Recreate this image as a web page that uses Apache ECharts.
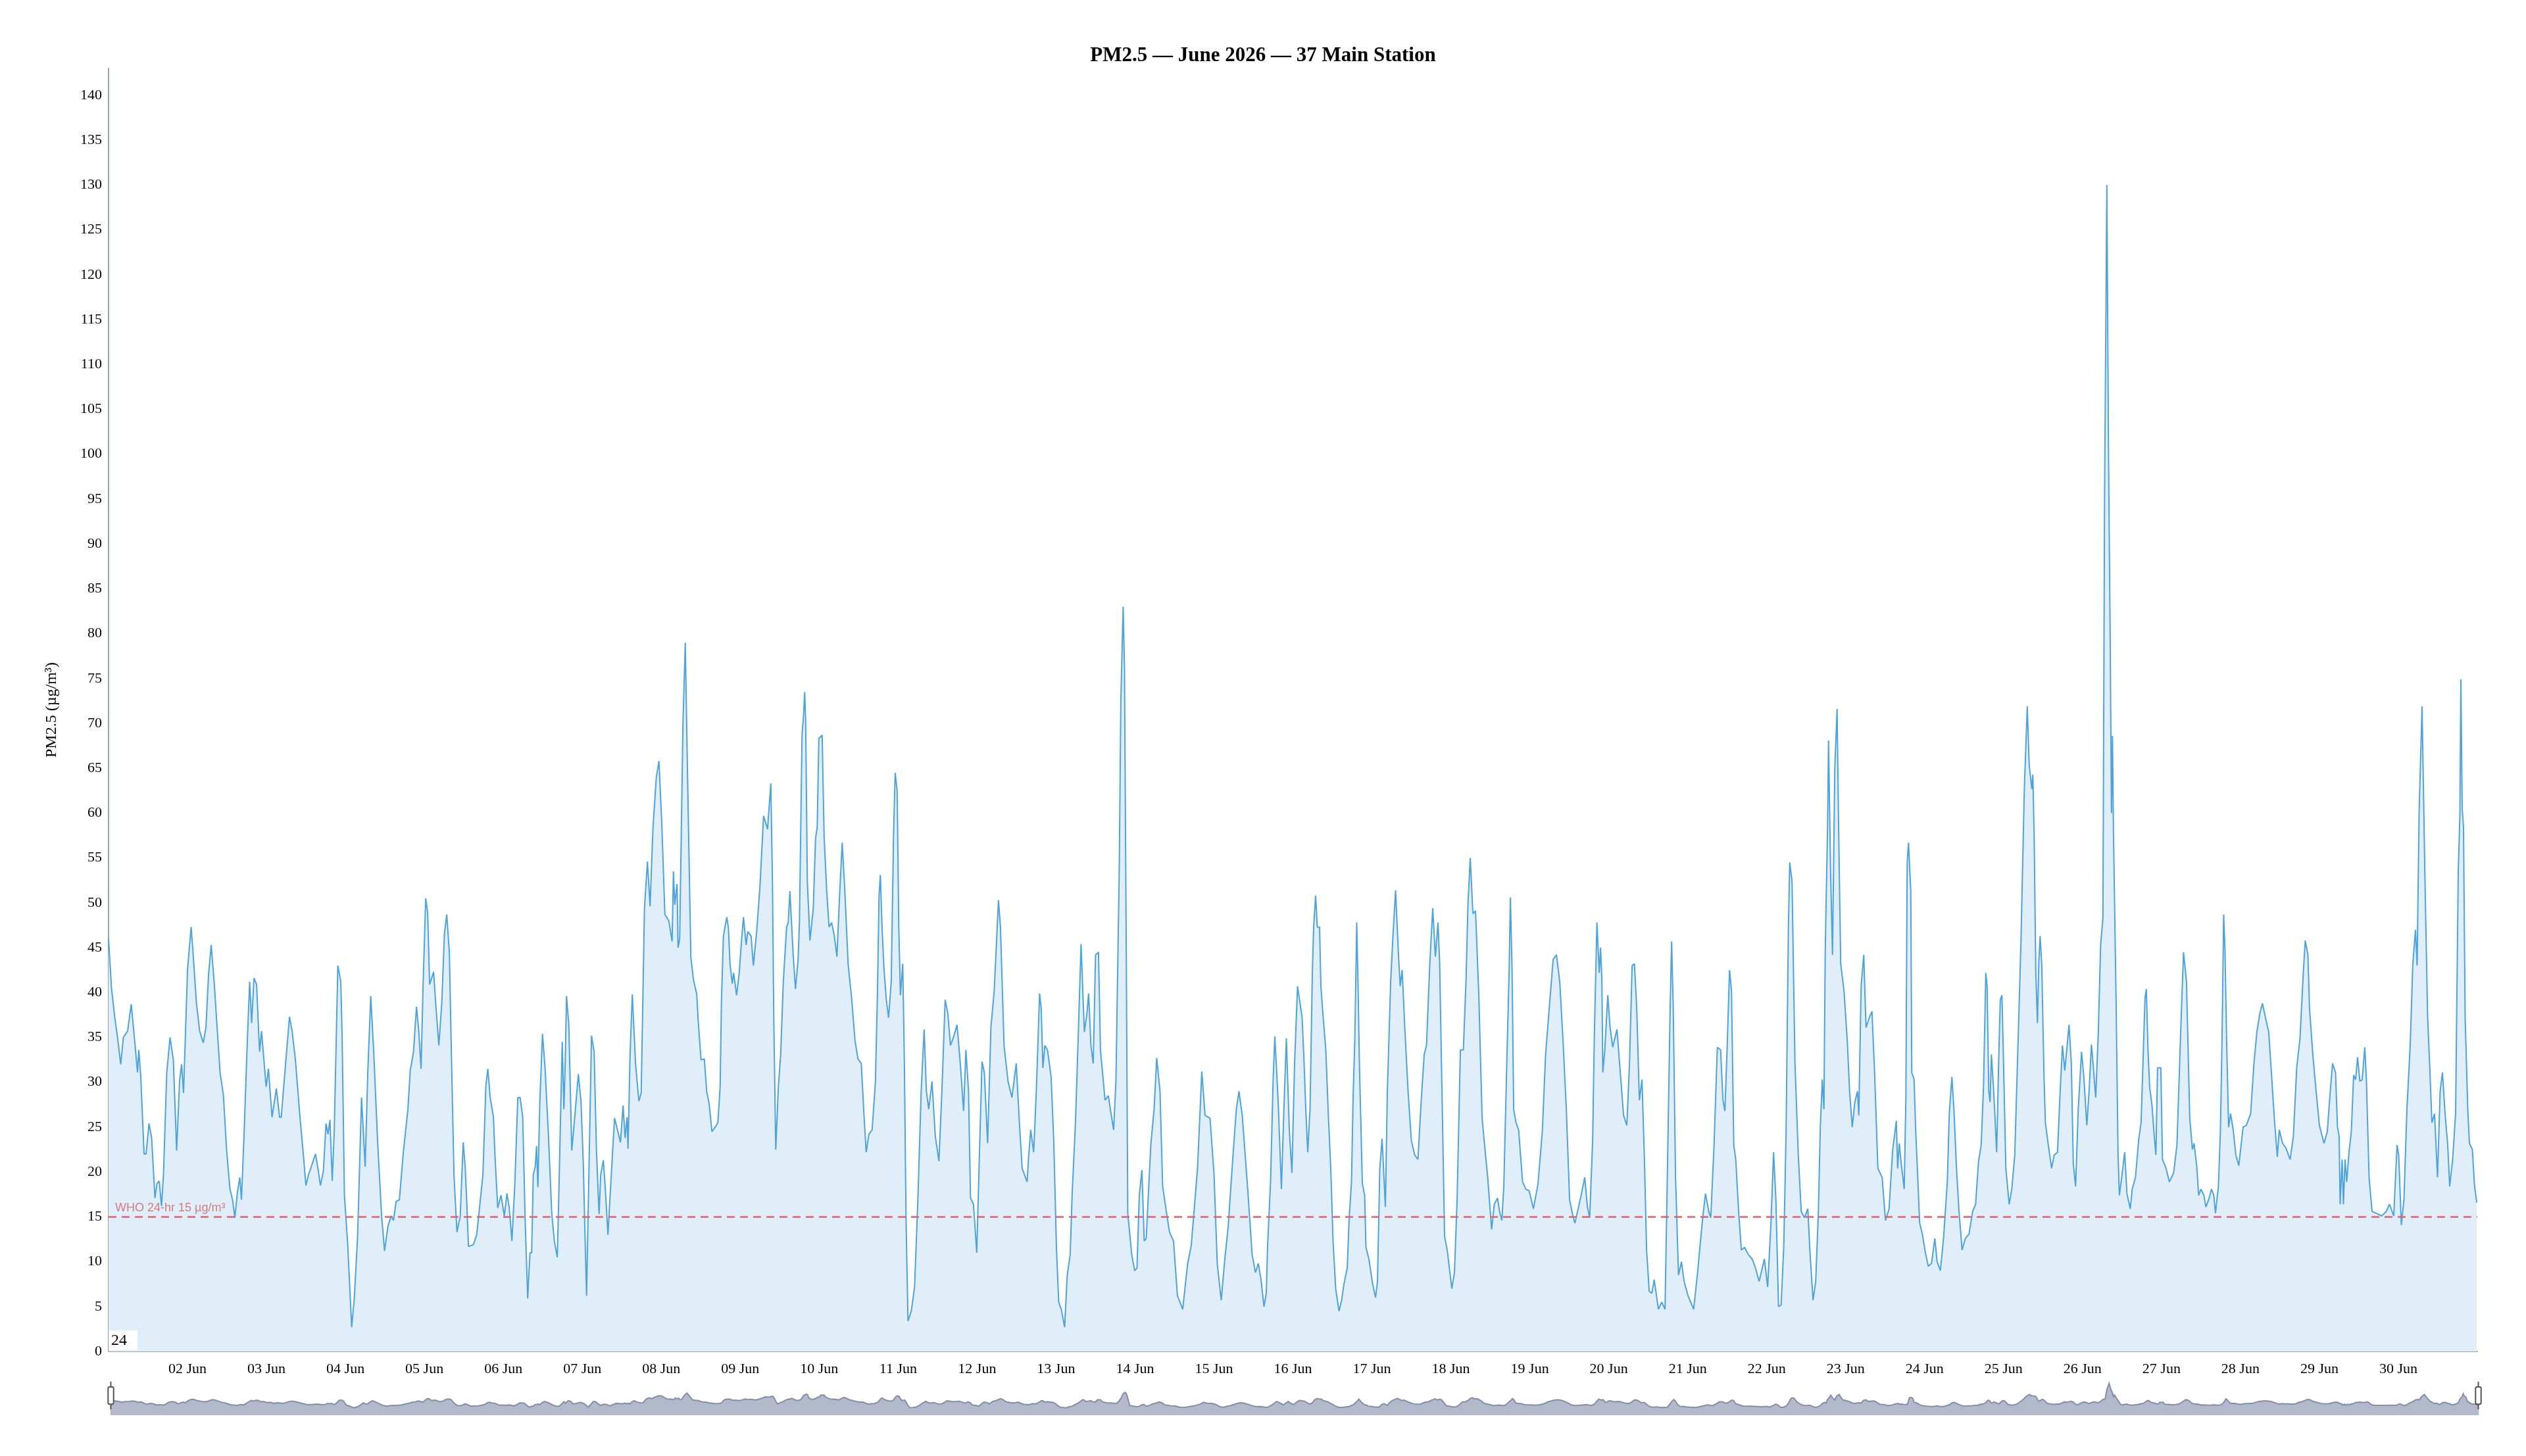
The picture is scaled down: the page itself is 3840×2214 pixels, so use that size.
<!DOCTYPE html>
<html>
<head>
<meta charset="utf-8">
<title>PM2.5 — June 2026 — 37 Main Station</title>
<script src="https://cdn.jsdelivr.net/npm/echarts@6/dist/echarts.min.js"></script>
<style>
  html, body { margin: 0; padding: 0; background: #fff; }
  #chart { width: 3840px; height: 2214px; }
</style>
</head>
<body>
<div id="chart"></div>
<script>
// readings: [hours since 01 Jun 00:00, PM2.5 in µg/m³]
var week1 = [
  [0,46],[0.9,40.5],[1.8,37.5],[2.8,34.8],[3.7,32],[4.5,35],[5.8,35.7],[6.9,38.7],[7.8,35.2],[8.8,31.1],[9.2,33.6],[9.8,30.6],
  [10.8,22],[11.4,22],[12.3,25.4],[13.1,23.8],[14.1,17.1],[14.7,18.7],[15.4,19],[16.1,16.2],[16.7,19.7],[17.7,31.1],[18.7,35],
  [19.7,32.5],[20.7,22.4],[21.6,30.2],[22.2,32],[22.8,28.8],[24,42.5],[25.1,47.3],[25.7,44.4],[26.7,38.9],[27.7,35.7],[28.8,34.4],
  [29.6,36.1],[30.4,42],[31.2,45.3],[32.2,40.7],[33,36.1],[33.9,31.1],[34.9,28.6],[35.9,22.4],[36.9,18.1],[37.7,16.9],[38.4,14.9],
  [39.2,17.8],[39.9,19.4],[40.4,16.9],[41.2,24.2],[42.2,34.8],[42.9,41.2],[43.5,36.6],[44.2,41.6],[45,40.9],[45.9,33.4],[46.5,35.7],
  [47.9,29.5],[48.6,31.5],[49.7,26.1],[51,29.3],[52,26.1],[52.5,26.1],[53.8,32],[55,37.3],[55.8,35.7],[56.8,32.5],[58.1,26.5],
  [59.1,22.4],[60,18.5],[60.8,19.7],[61.8,20.8],[62.9,22],[63.7,20.3],[64.4,18.5],[65.3,20.1],[66.1,25.4],[66.7,24.2],[67.3,25.8],
  [68,19],[68.6,24.5],[69.7,43],[70.6,41.2],[71,35.2],[71.7,17.4],[72.7,11.9],[73.9,2.7],[74.7,5.9],[75.7,12.8],[76.9,28.3],
  [78,20.6],[78.8,31.1],[79.7,39.6],[80.6,33.4],[81.8,23.3],[83,15.1],[83.9,11.2],[84.9,13.9],[85.9,15.1],[86.6,14.6],[87.4,16.7],
  [88.4,16.9],[89.6,22.2],[91,27],[91.7,31.3],[92.7,33.4],[93.6,38.4],[94.3,35.7],[95,31.5],[95.6,40.7],[96.4,50.5],[97,48.9],
  [97.6,40.9],[98.8,42.3],[99.6,38],[100.4,34.1],[101.3,38.9],[102.1,46.6],[102.8,48.7],[103.6,44.4],[104.2,33.4],[105,19.7],
  [105.9,13.3],[106.9,15.1],[107.8,23.3],[108.4,20.6],[108.9,16.5],[109.4,11.7],[110.9,11.9],[111.9,13],[112.9,16.5],[113.8,19.7],
  [114.7,29.7],[115.3,31.5],[116,28.3],[117,26.1],[117.5,21.5],[118.3,16],[119.3,17.4],[120.3,15.1],[121.1,17.6],[121.8,16],
  [122.6,12.3],[123.5,18.7],[124.4,28.3],[125.1,28.3],[125.9,26.1],[126.6,15.1],[127.4,5.9],[128.1,11],[128.6,11],[129.1,19.7],
  [129.7,20.6],[130.1,22.9],[130.5,18.3],[131.1,27.9],[131.9,35.4],[132.7,31.5],[133.7,24.2],[134.7,15.5],[135.5,12.3],[136.4,10.5],
  [137,19.7],[137.9,34.5],[138.4,27],[138.8,32],[139.2,39.6],[139.9,36.4],[140.3,30.2],[140.8,22.4],[141.7,26.1],[142.8,30.9],
  [143.6,27.9],[144.3,21],[144.8,13.3],[145.3,6.2],[146,19.7],[146.8,35.2],[147.6,33.4],[148.3,22.4],[149.1,15.3],[149.6,19.7],
  [150.4,21.3],[150.9,18.7],[151.8,13],[152.6,18.3],[153.8,26],[154.7,24.7],[155.6,23.3],[156.4,27.4],[157,23.8],[157.6,26.1],
  [157.9,22.6],[158.5,32.9],[159.2,39.8],[160.2,32],[161.2,27.9],[161.9,28.8],[162.9,49.4],[163.8,54.6],[164.6,49.6],[165.5,58.5],
  [166.5,64],[167.3,65.8]
];
var week2 = [
  [168.2,58.5],[169.1,48.7],[170.3,48],[171.3,45.7],[171.7,53.5],[172.1,49.8],[172.8,52.1],[173.1,45],[173.6,46],[174.6,70],
  [175.3,79],[175.9,66],[176.4,56],[177,43.9],[177.8,41.4],[178.8,39.8],[179.2,37],[180.1,32.5],[181.1,32.6],[181.8,29],
  [182.6,27.5],[183.4,24.5],[184.4,25],[185.2,25.5],[185.9,29.5],[186.3,39.2],[186.9,46.3],[187.9,48.4],[188.4,47.3],[188.9,43.2],
  [189.6,41],[190,42.2],[190.9,39.7],[191.7,42.2],[192.4,45.8],[193,48.4],[193.8,45.3],[194.3,46.8],[195.3,46.3],[196,43],
  [197,46.8],[198,51.8],[199.1,59.7],[200.3,58.2],[201.3,63.3],[201.8,52.4],[202.2,37.2],[202.8,22.5],[203.6,29.5],[204.3,33.1],
  [205.1,41.2],[206.1,47.3],[206.6,47.8],[207.1,51.3],[208.1,44.2],[208.8,40.4],[209.6,43.7],[210,47.8],[210.8,68.8],[211.2,70.6],
  [211.6,73.5],[211.9,70.1],[212.4,52.4],[213.2,45.8],[214.2,49.3],[214.9,57.2],[215.4,58.4],[215.9,68.3],[216.9,68.7],[217.5,57.4],
  [218.3,51.3],[219,47.3],[219.8,47.8],[220.6,46.3],[221.4,44],[222.2,50.8],[223,56.7],[223.8,51.3],[224.8,43.2],[225.9,39.2],
  [226.9,34.6],[227.8,32.6],[228.8,32.1],[229.6,26.5],[230.3,22.2],[231.1,24.2],[232.1,24.7],[233.1,30.1],[233.7,39.7],[234.2,50.8],
  [234.6,53.1],[235.1,47.3],[235.7,42.7],[236.4,39.2],[237.1,37.2],[237.9,41.2],[238.6,57.4],[239.1,64.5],[239.7,62.5],[240.2,47.3],
  [240.7,39.7],[241.4,43.2],[241.9,32.1],[242.4,14.9],[243,3.4],[244,4.5],[245,7.2],[246,16.9],[247,29],[247.9,35.9],
  [248.6,29],[249.3,27],[250.3,30.1],[251.3,24],[252.4,21.2],[253.3,29],[254.3,39.2],[255.1,37.7],[255.9,34.1],[256.9,35.1],
  [257.9,36.4],[258.9,32.1],[259.9,26.8],[260.6,33.6],[261.4,29],[262,17.1],[262.9,16.4],[263.9,11],[264.7,21.9],[265.5,32.3],
  [266.2,31.1],[267.2,23.2],[268.2,36.1],[269.2,40.2],[270.5,50.3],[271.1,47.3],[272.2,34.1],[273.4,30.1],[274.6,28.3],[275.9,32.1],
  [276.7,26.5],[277.7,20.4],[279.2,18.9],[279.7,21.9],[280.3,24.7],[281.2,22.2],[282,29],[283,39.9],[283.5,38.2],[284,31.6],
  [284.6,34.1],[285.4,33.6],[286.5,30.6],[287.3,23.5],[288.1,11.8],[288.8,5.5],[289.6,4.7],[290.6,2.7],[291.4,8.5],[292.3,10.8],
  [292.9,17.6],[293.9,25.5],[294.7,34.6],[295.6,45.4],[296.6,35.6],[297.4,37.7],[297.9,39.9],[298.6,34.1],[299.3,32.1],[300,44.2],
  [300.9,44.5],[301.5,33.6],[302.9,28],[303.9,28.5],[304.8,26.3],[305.5,24.7],[306.2,30.1],[307.2,53.4],[307.7,72.6],[308.4,83],
  [308.8,76],[309.3,47.3],[309.8,15.4],[311,10.8],[311.9,9],[312.6,9.3],[313.3,17.4],[314.1,20.2],[314.8,12.3],[315.4,12.6],
  [316.8,23],[317.8,27],[318.6,32.7],[319.6,29],[320.4,18.4],[321.6,15.4],[322.5,13.3],[323.7,12.3],[324.9,6.2],[326.5,4.7],
  [328,9.8],[329.1,11.8],[330,15.9],[331,20.4],[332.3,31.2],[333.3,26.3],[334.8,26],[336,19.9]
];
var week3 = [
  [337,9.8],[338.2,5.7],[339.3,10.3],[340.3,13.8],[341.7,21.4],[342.8,27],[343.6,29],[344.6,26.3],[346.2,18.4],[347.6,10.8],
  [348.6,8.8],[349.5,9.8],[350.3,8],[351.2,5],[351.9,6.5],[352.3,11.8],[353.2,18.9],[354,30.6],[354.5,35.1],[355.5,28],
  [356.5,18.1],[357.3,27.5],[358,34.9],[358.9,24.7],[359.7,19.9],[360.5,32.1],[361.4,40.7],[362.8,37.2],[363.4,32.1],[363.9,27],
  [364.5,22.2],[365.2,27],[365.9,42.2],[366.3,47.3],[366.9,50.8],[367.4,47.3],[368.1,47.3],[368.5,40.7],[369.2,37.2],[370,33.6],
  [370.8,26],[371.5,20.4],[372.2,12.3],[373,7],[374,4.5],[374.8,5.7],[375.5,7.5],[376.5,9.3],[377.1,14.9],[377.8,18.9],
  [378.3,28.5],[378.8,34.6],[379.4,47.8],[379.8,40.7],[380.2,32.1],[381.1,18.7],[381.8,17.4],[382.2,11.6],[383.1,10.3],[384.1,7.8],
  [385.1,6],[385.7,7.8],[386.4,20.4],[387.1,23.7],[388.1,16.1],[388.7,29],[389.7,41.2],[390.4,46.3],[391.2,51.4],[392,44.8],
  [392.6,40.7],[393.2,42.5],[394,36.1],[395,29],[396,23.5],[397,21.9],[398,21.4],[399,28],[399.9,33.1],[400.6,34.1],
  [401.6,43.2],[402.5,49.4],[403.3,44],[404.1,47.8],[404.6,43.2],[405.4,27],[406.1,12.8],[406.9,11.3],[408.3,7],[409.1,8.8],
  [409.9,16.9],[410.9,33.6],[411.8,33.6],[412.6,41.2],[413.2,49.8],[413.9,55],[414.7,48.8],[415.5,49.1],[416.5,39.7],[417.5,26],
  [418,24],[419.2,19.4],[420.4,13.6],[421.2,16.4],[422.2,17.1],[422.8,15.6],[423.5,14.6],[424.1,18.4],[425,32.1],[425.7,42.2],
  [426.1,50.6],[426.6,42.7],[427.1,27],[427.8,25.5],[428.6,24.7],[429.8,18.9],[430.8,18.1],[431.8,17.9],[433.1,15.9],[434.5,18.7],
  [435.8,24.5],[436.8,33.1],[437.9,38.2],[439.1,43.7],[440.1,44.2],[441.1,41.2],[442.1,34.6],[443.1,27],[444.1,16.9],[445.1,15.1],
  [445.7,14.3],[446.7,15.9],[447.7,17.6],[448.7,19.4],[449.5,16.1],[450.2,14.9],[451.1,23.5],[451.6,35],[452.4,47.8],[453.1,42.2],
  [453.5,45],[453.9,41.5],[454.2,31.1],[454.8,33.6],[455.7,39.7],[456.4,36.1],[457.2,33.9],[458.5,35.9],[459.5,31.1],[460.5,26.3],
  [461.5,25.2],[462.3,32.1],[463.1,43],[463.8,43.2],[464.5,38.2],[465.3,28],[466.1,30.3],[466.8,21.9],[467.5,11.3],[468.3,6.7],
  [469.1,6.5],[469.8,8],[470.4,6.5],[471.1,4.7],[472.1,5.5],[473.1,4.7],[473.8,19.4],[474.6,37.2],[475.1,45.7],[475.6,38.2],
  [476.3,19.4],[477.2,8.5],[478.1,10],[478.9,7.8],[480.1,6.2],[480.9,5.5],[481.8,4.7],[483,8.8],[484,12.8],[484.7,15.4],
  [485.4,17.6],[486.4,15.6],[487,14.9],[488,23],[489,33.9],[490,33.6],[490.7,28],[491.3,26.8],[492,34.1],[492.7,42.5],
  [493.3,40.2],[494,23],[494.6,21.4],[495.5,15.4],[496.3,11.3],[497.3,11.6],[498.4,10.8],[499.6,10.3],[500.6,9.3],[501.7,7.8],
  [503.3,10.3]
];
var week4 = [
  [504.3,7.2],[505.3,14.3],[506.1,22.2],[506.8,16.9],[507.6,5],[508.4,5.2],[509.2,11.8],[509.9,24.5],[510.6,47.3],[511,54.5],
  [511.7,52.4],[512.6,32.1],[513.6,21.9],[514.5,15.6],[515.5,14.9],[516.5,15.9],[517.2,10.8],[518.1,5.7],[518.9,7.8],[519.7,15.4],
  [520.3,25],[520.9,30.3],[521.4,27],[521.8,44.8],[522.5,58.4],[522.8,68.1],[523.4,53.9],[524,44.2],[524.7,65],[525.4,71.6],
  [525.8,60],[526.5,43.2],[527.5,40.2],[528.5,34.6],[529.2,29],[530,25],[530.8,27.8],[531.6,29],[532,26.3],[532.7,40.7],
  [533.5,44.2],[534.2,36.1],[535.2,37.2],[536,37.9],[536.8,31.1],[537.8,20.4],[539.1,19.4],[540.1,14.6],[541.2,15.9],[542.3,22.5],
  [543.4,25.7],[543.8,20.4],[544.3,23.2],[544.9,20.9],[545.8,18.1],[546.3,28],[546.7,54.4],[547.1,56.7],[547.8,51.3],[548.1,31.1],
  [548.8,30.3],[549.3,24.5],[549.8,20.4],[550.5,14.3],[551.3,13.1],[552.1,11.3],[553.1,9.5],[554.1,9.8],[555.1,12.6],[555.8,10],
  [556.8,9],[557.8,12.8],[558.9,18.9],[559.5,26.5],[560.3,30.6],[560.9,27],[561.7,20.4],[562.4,15.9],[563.4,11.3],[564.4,12.6],
  [565.5,13.1],[566.6,15.6],[567.5,16.4],[568.4,21.2],[569.2,23],[569.9,29.5],[570.6,42.2],[571,40.7],[571.5,29],[571.9,27.8],
  [572.3,33.1],[573,29],[573.9,22.2],[574.5,32.1],[575,39.2],[575.5,39.7],[576,32.1],[576.7,20.4],[577.7,16.4],[578.5,18.1],
  [579.4,21.9],[580.3,33.1],[581.3,45.8],[582.3,62.5],[583.2,71.9],[583.8,65.3],[584.6,62.7],[584.9,64.3],[585.3,57.4],[585.8,42.2],
  [586.3,36.6],[586.7,43.2],[587.1,46.3],[587.6,43.2],[588.3,30.6],[588.7,25.5],[589.6,23],[590.6,20.4],[591.4,21.9],[592.4,22.2],
  [593.2,29],[593.9,34.1],[594.6,31.3],[595.2,33.6],[595.9,36.4],[596.6,32.1],[597.2,20.9],[597.9,18.4],[598.7,27],[599.7,33.4],
  [600.4,30.6],[601.3,25.2],[602,29],[602.7,34.2],[603.2,32.1],[604,28.3],[604.8,35.6],[605.5,45.3],[606.2,48.3],[606.7,95],
  [607.4,130],[607.9,100],[608.4,80],[608.8,60],[609.1,68.6],[609.4,58],[610.2,39.2],[610.8,21.9],[611.2,17.4],[611.9,19.4],
  [612.8,22.2],[613.5,17.6],[614.5,15.9],[615.1,18.1],[616.1,19.4],[617.1,23.7],[617.8,25.5],[618.5,33.6],[619,39.4],[619.4,40.4],
  [619.9,33.6],[620.4,29.5],[621.1,27.5],[621.8,24],[622.3,21.9],[622.8,31.6],[623.8,31.6],[624.3,21.4],[625.4,20.4],[626.4,18.9],
  [627.7,19.9],[628.7,23],[629.7,34.1],[630.7,44.5],[631.6,41.2],[632.6,26],[633.4,22.5],[633.9,23.2],[634.7,20.7],[635.3,17.4],
  [636,18.1],[636.9,17.4],[637.5,16.1],[638.5,17.1],[639.2,18.1],[639.9,17.4],[640.4,15.4],[641.3,18.4],[641.9,24.5],[642.4,34.6],
  [642.9,48.7],[643.3,44.8],[643.8,34.6],[644.4,25],[645,26.5],[645.8,24.7],[646.6,21.9],[647.5,20.7],[648.8,25],[649.8,25.2],
  [651.1,26.5],[652.1,32.1],[653,35.6],[653.9,37.7],[654.7,38.8],[655.6,37.2],[656.6,35.6],[657.4,31.1],[658.3,26],[659.2,21.7],
  [659.8,24.7],[660.8,23.2],[661.8,22.7],[663.1,21.4],[664.1,24],[665.1,31.6],[666.1,34.9],[667.1,42.2],[667.7,45.8],[668.5,44.2],
  [669,38.2],[670,33.1],[671,29],[672,25.2],[673.4,23.2],[674.4,24.5],[675.3,29],[676,32.1],[676.9,31.1],[677.5,25],
  [678,24],[678.3,16.4],[678.9,21.4],[679.3,16.4],[679.8,21.4],[680.3,18.9],[681,22.2],[681.7,24.5],[682.4,30.8],[683,30.3],
  [683.6,32.8],[684.3,30.1],[685,30.3],[685.8,33.9],[686.3,30.1],[687.1,19.4],[688,15.6],[689.3,15.4],[690.9,15.1],[692.3,15.6],
  [693.3,16.4],[694.6,15.1],[695.6,23],[696.1,21.9],[696.9,14.1],[697.7,16.9],[698.6,27],[699.6,34.1],[700.4,43.2],[701.2,47],
  [701.7,43],[702.3,60],[703.2,71.9],[704.1,52.4],[704.9,37.2],[705.5,32.1],[706.2,25.5],[707,26.5],[707.9,19.4],[708.7,29],
  [709.4,31.1],[710.2,26.5],[711,23],[711.6,18.4],[712.5,21.4],[713.4,26.5],[714.2,53.4],[714.7,59.7],[715,74.9],[715.4,60.5],
  [715.8,58.4],[716.3,37.2],[717.1,27],[717.6,23.2],[718.5,22.5],[719.1,18.7],[719.8,16.6]
];

var chartTitle = 'PM2.5 — June 2026 — 37 Main Station';
var yAxisName = 'PM2.5 (µg/m³)';
var whoLimit = 15;
var whoLabel = 'WHO 24-hr 15 µg/m³';
var cornerNote = '24';
var yMax = 143;
var yStep = 5;

var HOUR = 3600 * 1000;
var DAY = 24 * HOUR;
var monthStart = new Date(2026, 5, 1).getTime();
var monthEnd = new Date(2026, 6, 1).getTime();

var seriesData = week1.concat(week2, week3, week4).map(function (p) {
  return [monthStart + p[0] * HOUR, p[1]];
});

var serif = '"Liberation Serif", "Times New Roman", serif';
var chart = echarts.init(document.getElementById('chart'));

var option = {
  animation: false,
  backgroundColor: '#fff',
  title: {
    text: chartTitle,
    left: 'center',
    top: 64,
    textStyle: { fontFamily: serif, fontSize: 31, fontWeight: 'bold', color: '#000' }
  },
  grid: { left: 165, right: 74, top: 104, bottom: 159 },
  xAxis: {
    type: 'time',
    min: monthStart,
    max: monthEnd,
    minInterval: DAY,
    maxInterval: DAY,
    axisLine: { lineStyle: { color: '#9aa3ab', width: 2 } },
    axisTick: { show: false },
    splitLine: { show: false },
    axisLabel: {
      // the first and last day boundaries carry no label
      formatter: function (value) {
        if (value <= monthStart || value >= monthEnd) return '';
        return echarts.time.format(value, '{dd} {MMM}', false);
      },
      fontFamily: serif,
      fontSize: 22,
      fontWeight: 'normal',
      color: '#000',
      margin: 16
    }
  },
  yAxis: {
    type: 'value',
    min: 0,
    max: yMax,
    interval: yStep,
    name: yAxisName,
    nameLocation: 'middle',
    nameGap: 74,
    nameTextStyle: { fontFamily: serif, fontSize: 24, color: '#000' },
    axisLine: { show: true, lineStyle: { color: '#9aa3ab', width: 2 } },
    axisTick: { show: false },
    splitLine: { show: false },
    axisLabel: { fontFamily: serif, fontSize: 22, color: '#000', margin: 10, showMaxLabel: false }
  },
  dataZoom: [{
    type: 'slider',
    xAxisIndex: 0,
    start: 0,
    end: 100,
    left: 165,
    right: 74,
    bottom: 62,
    height: 60,
    showDetail: false,
    moveHandleSize: 0,
    brushSelect: false,
    borderColor: 'transparent',
    backgroundColor: 'transparent',
    fillerColor: 'rgba(0,0,0,0)',
    dataBackground: {
      lineStyle: { color: '#858ea4', width: 2 },
      areaStyle: { color: '#adb5c8', opacity: 0.95 }
    },
    selectedDataBackground: {
      lineStyle: { color: '#858ea4', width: 2 },
      areaStyle: { color: '#adb5c8', opacity: 0.95 }
    },
    handleSize: '70%',
    handleStyle: { color: '#fff', borderColor: '#555', borderWidth: 2 }
  }],
  graphic: [{
    type: 'text',
    left: 166,
    bottom: 161,
    z: 100,
    style: {
      text: cornerNote,
      font: '24px "Liberation Serif", serif',
      fill: '#000',
      backgroundColor: '#fff',
      padding: [4, 16, 2, 3]
    }
  }],
  series: [{
    type: 'line',
    name: 'PM2.5',
    data: seriesData,
    showSymbol: false,
    symbol: 'none',
    sampling: 'none',
    lineStyle: { color: '#4fa3db', width: 2 },
    areaStyle: { color: '#e0eefa', opacity: 1 },
    markLine: {
      symbol: 'none',
      silent: true,
      z: 10,
      data: [{ yAxis: whoLimit }],
      lineStyle: { color: '#e0606a', type: [12, 8], width: 3, opacity: 0.85 },
      label: {
        position: 'insideStartTop',
        formatter: whoLabel,
        color: '#d0676d',
        fontFamily: '"Liberation Sans", Arial, sans-serif',
        fontSize: 18,
        distance: [10, 4]
      }
    }
  }]
};

chart.setOption(option);
window.addEventListener('resize', function () {
  chart.resize();
});
</script>
</body>
</html>
